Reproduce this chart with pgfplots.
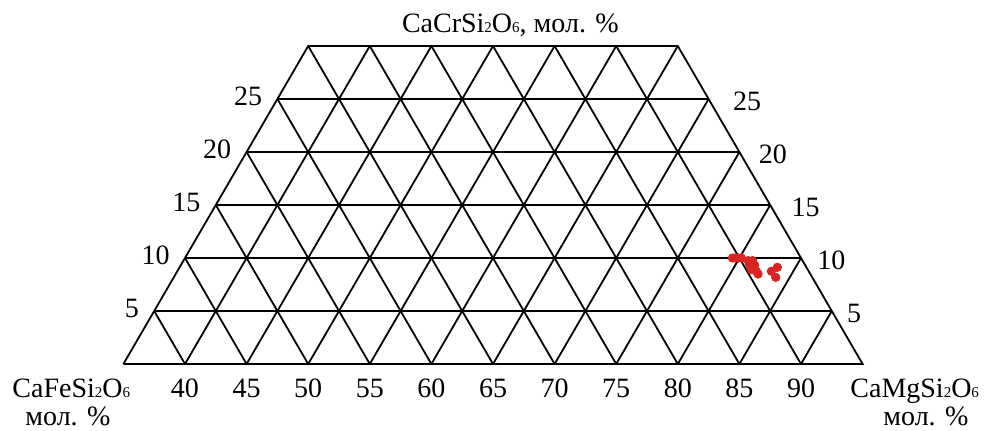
\documentclass[border=0pt]{standalone}
\usepackage{fontspec}
\setmainfont{Liberation Serif}
\usepackage{pgfplots}
\usepackage{pgfplotstable}
\pgfplotsset{compat=1.18}

\definecolor{dotred}{RGB}{218,36,34}
\newcommand\sub[1]{\raisebox{-0.4pt}{\fontsize{7.5}{8}\selectfont #1}}

% clinopyroxene compositions: mg = CaMgSi2O6, cr = CaCrSi2O6 (mol. %)
\pgfplotstableread{
mg    cr
79.43 10.00
79.68 10.00
79.92 10.00
80.16 10.00
80.84 9.75
81.19 9.75
81.15 9.37
81.59 9.31
81.52 8.90
82.00 8.75
82.27 8.49
83.22 8.75
83.52 9.12
83.86 8.18
}\pyroxene

\begin{document}
\begin{tikzpicture}[font=\fontsize{14}{17}\selectfont]
\begin{axis}[
  x=6.16pt, y=5.3pt,
  xmin=35, xmax=95, ymin=0, ymax=30,
  hide axis, clip=false,
  unbounded coords=jump,
]
% frame (trapezoid)
\addplot[black, line width=0.9pt, line join=miter] coordinates {(35,0) (95,0) (80,30) (50,30) (35,0)};
% CaCrSi2O6 = const (horizontal)
\addplot[black, line width=0.9pt] coordinates {
  (37.5,5) (92.5,5) (nan,nan)
  (40,10) (90,10) (nan,nan)
  (42.5,15) (87.5,15) (nan,nan)
  (45,20) (85,20) (nan,nan)
  (47.5,25) (82.5,25)};
% CaMgSi2O6 = const
\addplot[black, line width=0.9pt] coordinates {
  (40,0) (55,30) (nan,nan)
  (45,0) (60,30) (nan,nan)
  (50,0) (65,30) (nan,nan)
  (55,0) (70,30) (nan,nan)
  (60,0) (75,30) (nan,nan)
  (65,0) (80,30) (nan,nan)
  (70,0) (82.5,25) (nan,nan)
  (75,0) (85,20) (nan,nan)
  (80,0) (87.5,15) (nan,nan)
  (85,0) (90,10) (nan,nan)
  (90,0) (92.5,5)};
% CaFeSi2O6 = const
\addplot[black, line width=0.9pt] coordinates {
  (40,0) (37.5,5) (nan,nan)
  (45,0) (40,10) (nan,nan)
  (50,0) (42.5,15) (nan,nan)
  (55,0) (45,20) (nan,nan)
  (60,0) (47.5,25) (nan,nan)
  (65,0) (50,30) (nan,nan)
  (70,0) (55,30) (nan,nan)
  (75,0) (60,30) (nan,nan)
  (80,0) (65,30) (nan,nan)
  (85,0) (70,30) (nan,nan)
  (90,0) (75,30)};
% data
\addplot[only marks, mark=*, mark size=2.1pt, color=dotred]
  table[x expr=\thisrow{mg}+0.5*\thisrow{cr}, y=cr] {\pyroxene};

% bottom scale
\foreach \v in {40,45,...,90} {
  \edef\tmp{\noexpand\node[anchor=base, inner sep=0pt, yshift=-16.5pt] at (axis cs:\v,0) {\v};}
  \tmp
}
% side scales
\foreach \c/\rs in {5/7.5,10/8,15/10.5,20/9.5,25/12} {
  \edef\tmp{\noexpand\node[anchor=east, inner sep=0pt, xshift=-7.5pt, yshift=1.5pt] at (axis cs:{35+\c/2},\c) {\c};
    \noexpand\node[anchor=west, inner sep=0pt, xshift=\rs pt, yshift=-1pt] at (axis cs:{95-\c/2},\c) {\c};}
  \tmp
}
% component names
\node[anchor=base west, inner sep=0pt, xshift=46.7pt, yshift=7pt] at (axis cs:50,30) {CaCrSi\sub{2}O\sub{6}, мол. \%};
\node[anchor=base west, inner sep=0pt, xshift=-55.7pt, yshift=-16.5pt] at (axis cs:35,0) {CaFeSi\sub{2}O\sub{6}};
\node[anchor=base west, inner sep=0pt, xshift=-49.2pt, yshift=-30.5pt] at (axis cs:35,0) {мол. \%};
\node[anchor=base west, inner sep=0pt, xshift=-6.3pt, yshift=-16.5pt] at (axis cs:95,0) {CaMgSi\sub{2}O\sub{6}};
\node[anchor=base west, inner sep=0pt, xshift=10.2pt, yshift=-30.5pt] at (axis cs:95,0) {мол. \%};
\coordinate (O) at (axis cs:35,0);
\end{axis}
\pgfresetboundingbox
\path[use as bounding box] (O) ++(-61.7pt,-33pt) rectangle ++(492.5pt,215pt);
\end{tikzpicture}
\end{document}
